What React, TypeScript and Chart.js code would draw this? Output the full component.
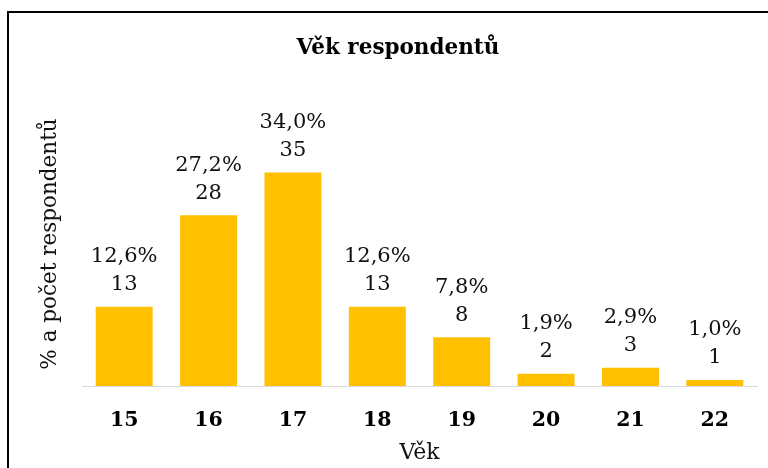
import React, { useEffect, useRef } from "react";
import { Chart, registerables } from "chart.js";

Chart.register(...registerables);

const categories = ["15", "16", "17", "18", "19", "20", "21", "22"];
const counts = [13, 28, 35, 13, 8, 2, 3, 1];
const percents = ["12,6%", "27,2%", "34,0%", "12,6%", "7,8%", "1,9%", "2,9%", "1,0%"];
const chartTitle = "Věk respondentů";
const xTitle = "Věk";
const yTitle = "% a počet respondentů";

const SERIF = "'DejaVu Serif', serif";

const decorPlugin = {
  id: "decor",
  afterDatasetsDraw(chart: any) {
    const { ctx } = chart;
    const meta = chart.getDatasetMeta(0);
    ctx.save();
    ctx.fillStyle = "#111";
    ctx.font = `21px ${SERIF}`;
    ctx.textAlign = "center";
    ctx.textBaseline = "middle";
    meta.data.forEach((bar: any, i: number) => {
      const x = bar.x;
      const top = bar.y;
      ctx.fillText(String(counts[i]), x, top - 22);
      ctx.fillText(percents[i], x, top - 50);
    });
    // title
    ctx.fillStyle = "#000";
    ctx.font = `bold 21.5px ${SERIF}`;
    ctx.fillText(chartTitle, 398, 48);
    // y title
    ctx.font = `21.5px ${SERIF}`;
    ctx.fillStyle = "#111";
    ctx.translate(50, 244);
    ctx.rotate(-Math.PI / 2);
    ctx.fillText(yTitle, 0, 0);
    ctx.restore();
  },
};

export default function App() {
  const ref = useRef<HTMLCanvasElement | null>(null);
  useEffect(() => {
    if (!ref.current) return;
    const chart = new Chart(ref.current, {
      type: "bar",
      data: {
        labels: categories,
        datasets: [
          {
            data: counts,
            backgroundColor: "#FFC000",
            borderWidth: 0,
            categoryPercentage: 1,
            barPercentage: 0.675,
          },
        ],
      },
      options: {
        animation: false,
        responsive: false,
        maintainAspectRatio: false,
        layout: { padding: { left: 82, right: 11, top: 142, bottom: 0 } },
        plugins: {
          legend: { display: false },
          title: { display: false },
          tooltip: { enabled: false },
        },
        scales: {
          x: {
            grid: { display: false },
            border: { display: true, color: "#d9d9d9", width: 1 },
            ticks: {
              color: "#000",
              font: { family: SERIF, size: 20.5, weight: "bold" },
              padding: 14,
            },
            title: {
              display: true,
              text: xTitle,
              color: "#111",
              font: { family: SERIF, size: 22 },
              padding: { top: 12, bottom: 2 },
            },
            afterFit(scale: any) {
              scale.height = 82;
            },
          },
          y: {
            display: false,
            min: 0,
            max: 40,
          },
        },
      },
      plugins: [decorPlugin],
    });
    return () => chart.destroy();
  }, []);

  return (
    <div
      style={{
        position: "fixed",
        left: 0,
        top: 0,
        width: 768,
        height: 468,
        overflow: "hidden",
        background: "#fff",
      }}
    >
      <div
        style={{
          position: "absolute",
          left: 7,
          top: 11,
          width: 800,
          height: 500,
          border: "2px solid #000",
          boxSizing: "border-box",
        }}
      />
      <canvas
        ref={ref}
        width={768}
        height={468}
        style={{ position: "absolute", left: 0, top: 0, width: 768, height: 468 }}
      />
    </div>
  );
}
